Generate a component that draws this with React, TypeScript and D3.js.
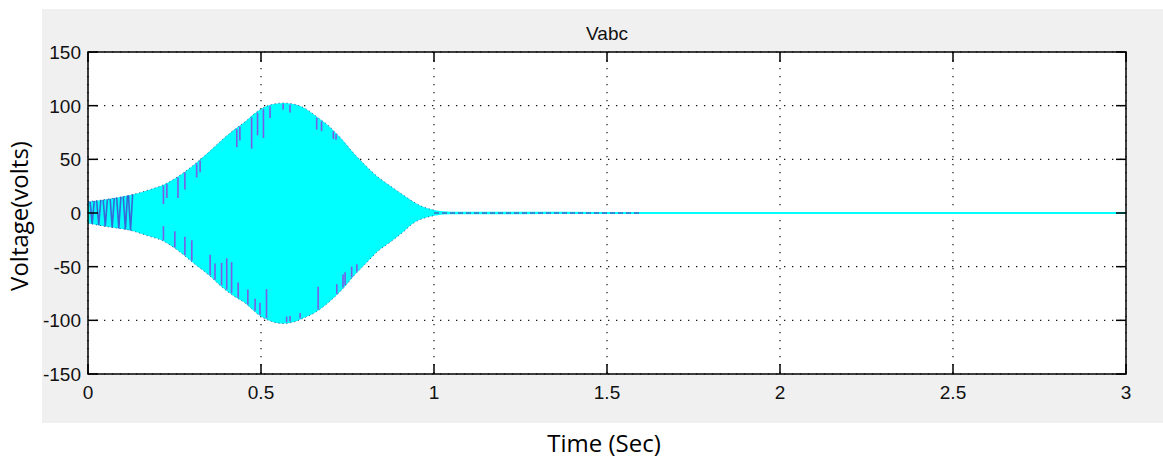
import React from "react";
import * as d3 from "d3";

// envelope of the three-phase voltage (volts)
const envTime = [0, 0.06, 0.12, 0.18, 0.22, 0.26, 0.31, 0.35, 0.38, 0.42, 0.45, 0.5, 0.53, 0.565, 0.6, 0.63, 0.66, 0.7, 0.73, 0.77, 0.8, 0.84, 0.87, 0.91, 0.94, 0.97, 1.0, 1.05, 1.5, 2.0, 2.5, 3.0];
const envUpper = [10.5, 13, 16.5, 22, 26.5, 34, 46, 57, 66, 77, 84, 97, 101, 102.5, 101, 97, 90, 80, 70, 55, 45, 33, 26, 17, 10.5, 5.5, 2.8, 1.2, 1, 1, 1, 1];
const envLower = [-9.5, -13, -16, -22, -26.5, -35, -48, -58, -67, -77, -83, -96.5, -101, -103, -101, -97, -92, -82, -73, -58, -48, -35, -28, -18, -9.6, -5, -2.5, -1.2, -1, -1, -1, -1];

// purple stripes hanging from the upper edge (time, length in volts)
const upStripeT = [0.218, 0.228, 0.26, 0.28, 0.314, 0.324, 0.43, 0.439, 0.473, 0.49, 0.507, 0.526, 0.564, 0.584, 0.661, 0.675, 0.709, 0.717];
const upStripeLen = [18, 14, 20, 17, 14, 12, 18, 14, 30, 22, 28, 12, 6, 8, 12, 10, 8, 6];
// purple stripes rising from the lower edge
const lowStripeT = [0.218, 0.251, 0.28, 0.3, 0.353, 0.367, 0.386, 0.401, 0.415, 0.434, 0.462, 0.483, 0.497, 0.516, 0.574, 0.584, 0.613, 0.665, 0.719, 0.737, 0.743, 0.762, 0.777];
const lowStripeLen = [14, 16, 18, 20, 20, 16, 22, 30, 30, 15, 15, 12, 12, 28, 6, 6, 6, 22, 10, 13, 13, 11, 8];
// dense zig-zag at the start
const zigT = [0.006, 0.025, 0.044, 0.064, 0.083, 0.102, 0.117];
// span of the small dark ripple after the collapse
const rippleSpan = [1.0, 1.6];

const xTicks = [0, 0.5, 1, 1.5, 2, 2.5, 3];
const xTickLabels = ["0", "0.5", "1", "1.5", "2", "2.5", "3"];
const yTicks = [-150, -100, -50, 0, 50, 100, 150];
const yTickLabels = ["-150", "-100", "-50", "0", "50", "100", "150"];

const W = 1163;
const H = 461;
const left = 88, right = 1126, top = 52, bottom = 374;
const tickFont = "'Liberation Sans', Arial, sans-serif";
const labelFont = "'Open Sans', 'Noto Sans', sans-serif";

export default function App() {
  const x = d3.scaleLinear().domain([0, 3]).range([left, right]);
  const y = d3.scaleLinear().domain([-150, 150]).range([bottom, top]);
  const upAt = d3.scaleLinear().domain(envTime).range(envUpper);
  const lowAt = d3.scaleLinear().domain(envTime).range(envLower);

  const idx = d3.range(envTime.length);
  const area = d3.area<number>()
    .x(i => x(envTime[i]))
    .y0(i => y(envLower[i]))
    .y1(i => y(envUpper[i]))
    .curve(d3.curveMonotoneX);
  const upLine = d3.line<number>().x(i => x(envTime[i])).y(i => y(envUpper[i])).curve(d3.curveMonotoneX);
  const lowLine = d3.line<number>().x(i => x(envTime[i])).y(i => y(envLower[i])).curve(d3.curveMonotoneX);
  const edgeIdx = idx.filter(i => envTime[i] <= 1.0);

  const stripe = "#7b5ce6";

  return (
    <svg width={W} height={H} style={{ position: "fixed", left: 0, top: 0, background: "#fff" }}>
      <rect x={42} y={9} width={W - 42} height={414} fill="#f0f0f0" />
      <rect x={left} y={top} width={right - left} height={bottom - top} fill="#fff" />

      {/* grid */}
      <g stroke="#111" strokeWidth={1.2} strokeDasharray="1.3 6.7">
        {xTicks.map(t => (
          <line key={"gx" + t} x1={x(t)} x2={x(t)} y1={top} y2={bottom} />
        ))}
        {yTicks.map(v => (
          <line key={"gy" + v} x1={left} x2={right} y1={y(v)} y2={y(v)} />
        ))}
      </g>

      {/* signal envelope */}
      <path d={area(idx) || ""} fill="#00ffff" />
      <g stroke="#1d2a8a" strokeWidth={1} strokeDasharray="1.2 2.8" fill="none" opacity={0.7}>
        <path d={upLine(edgeIdx) || ""} />
        <path d={lowLine(edgeIdx) || ""} />
      </g>

      {/* zig-zag at start */}
      <g stroke="#4a36c8" strokeWidth={1.6} fill="none">
        {zigT.map((t, i) => (
          <polyline
            key={"z" + i}
            points={`${x(t)},${y(upAt(t))} ${x(t + 0.006)},${y(lowAt(t + 0.006))} ${x(t + 0.012)},${y(upAt(t + 0.012))}`}
            opacity={0.75}
          />
        ))}
      </g>

      {/* stripes */}
      <g stroke={stripe} strokeWidth={1.6}>
        {upStripeT.map((t, i) => (
          <line key={"u" + i} x1={x(t)} x2={x(t)} y1={y(upAt(t)) + 1} y2={y(upAt(t) - upStripeLen[i])} />
        ))}
        {lowStripeT.map((t, i) => (
          <line key={"l" + i} x1={x(t)} x2={x(t)} y1={y(lowAt(t)) - 1} y2={y(lowAt(t) + lowStripeLen[i])} />
        ))}
      </g>

      {/* ripple after collapse */}
      <line x1={x(rippleSpan[0])} x2={x(rippleSpan[1])} y1={y(0)} y2={y(0)} stroke="#4650c4" strokeWidth={1.6} strokeDasharray="5 3" opacity={0.85} />

      {/* axes box and ticks */}
      <rect x={left} y={top} width={right - left} height={bottom - top} fill="none" stroke="#000" strokeWidth={1.5} />
      <g stroke="#000" strokeWidth={1.5}>
        {xTicks.map(t => (
          <g key={"tx" + t}>
            <line x1={x(t)} x2={x(t)} y1={bottom} y2={bottom - 10} />
            <line x1={x(t)} x2={x(t)} y1={top} y2={top + 10} />
          </g>
        ))}
        {yTicks.map(v => (
          <g key={"ty" + v}>
            <line x1={left} x2={left + 10} y1={y(v)} y2={y(v)} />
            <line x1={right} x2={right - 10} y1={y(v)} y2={y(v)} />
          </g>
        ))}
      </g>

      {/* tick labels */}
      <g fontFamily={tickFont} fontSize={19} fill="#111">
        {xTicks.map((t, i) => (
          <text key={"lx" + t} x={x(t)} y={399} textAnchor="middle">{xTickLabels[i]}</text>
        ))}
        {yTicks.map((v, i) => (
          <text key={"ly" + v} x={81} y={y(v) + 7} textAnchor="end">{yTickLabels[i]}</text>
        ))}
      </g>

      <text x={(left + right) / 2} y={40} textAnchor="middle" fontFamily={tickFont} fontSize={19} fill="#111">Vabc</text>

      <text x={604} y={452} textAnchor="middle" fontFamily={labelFont} fontSize={24} fill="#000">Time (Sec)</text>
      <text transform="translate(28,216) rotate(-90)" textAnchor="middle" fontFamily={labelFont} fontSize={24} fill="#000">Voltage(volts)</text>
    </svg>
  );
}
